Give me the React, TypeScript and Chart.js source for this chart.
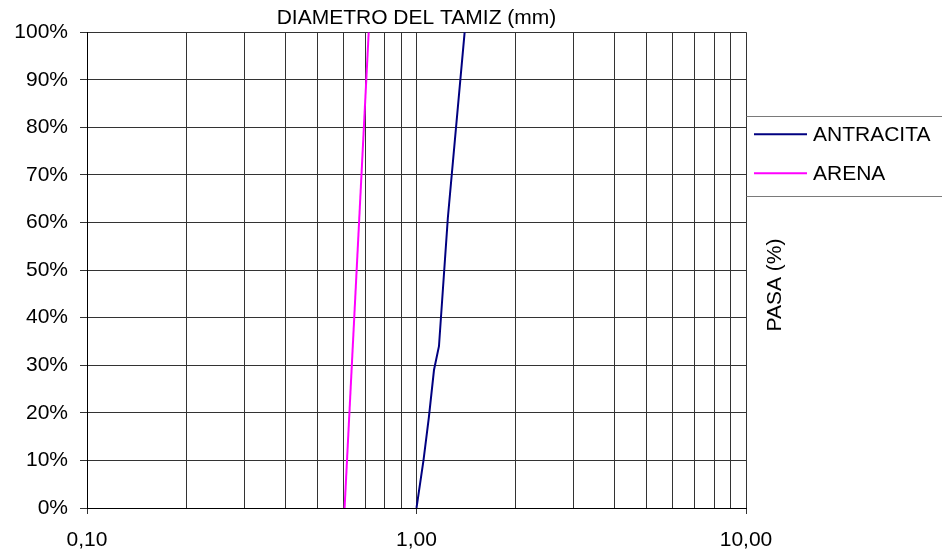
import React, { useEffect, useRef } from 'react';
import { Chart, registerables } from 'chart.js';

Chart.register(...registerables);

// ---- data ----
const antracitaDiam = [1.0, 1.05, 1.09, 1.13, 1.17, 1.245, 1.4];
const antracitaPasa = [0, 10, 19, 29, 34, 61, 100];
const arenaDiam = [0.605, 0.716];
const arenaPasa = [0, 100];

const seriesNames = ['ANTRACITA', 'ARENA'];
const seriesColors = ['#000080', '#FF00FF'];

const xGridTicks = [0.1, 0.2, 0.3, 0.4, 0.5, 0.6, 0.7, 0.8, 0.9, 1, 2, 3, 4, 5, 6, 7, 8, 9, 10];
const xLabelTicks = [0.1, 1, 10];
const yTickValues = [0, 10, 20, 30, 40, 50, 60, 70, 80, 90, 100];

const chartTitle = 'DIAMETRO DEL TAMIZ (mm)';
const yTitle = 'PASA (%)';

const FONT = "'Liberation Sans', Arial, sans-serif";

const isLabelTick = (v: number) => xLabelTicks.some((t) => Math.abs(t - v) < 1e-9);

const sidePlugin = {
  id: 'sideLegend',
  afterDraw(chart: any) {
    const { ctx, chartArea } = chart;
    ctx.save();
    const left = chartArea.right;
    const lx = Math.round(left - 0.5) + 0.5;
    const top = chartArea.top + 84;
    const bottom = chartArea.top + 164;
    ctx.strokeStyle = '#7a7a7a';
    ctx.lineWidth = 1;
    ctx.beginPath();
    ctx.moveTo(lx, Math.round(top) + 0.5);
    ctx.lineTo(chart.width, Math.round(top) + 0.5);
    ctx.moveTo(lx, Math.round(bottom) + 0.5);
    ctx.lineTo(chart.width, Math.round(bottom) + 0.5);
    ctx.stroke();

    ctx.font = `21px ${FONT}`;
    ctx.textBaseline = 'middle';
    ctx.textAlign = 'left';
    chart.data.datasets.forEach((ds: any, i: number) => {
      const y = top + 18 + i * 39;
      ctx.strokeStyle = ds.borderColor;
      ctx.lineWidth = 2;
      ctx.beginPath();
      ctx.moveTo(left + 8, y);
      ctx.lineTo(left + 61, y);
      ctx.stroke();
      ctx.fillStyle = '#000';
      ctx.fillText(ds.label, left + 67, y + 1);
    });

    ctx.translate(left + 29, 285);
    ctx.rotate(-Math.PI / 2);
    ctx.textAlign = 'center';
    ctx.textBaseline = 'middle';
    ctx.fillStyle = '#000';
    ctx.fillText(yTitle, 0, 0);
    ctx.restore();
  },
};

export default function App() {
  const ref = useRef<HTMLCanvasElement | null>(null);

  useEffect(() => {
    if (!ref.current) return;
    const chart = new Chart(ref.current, {
      type: 'scatter',
      data: {
        datasets: [
          {
            label: seriesNames[0],
            data: antracitaDiam.map((x, i) => ({ x, y: antracitaPasa[i] })),
            borderColor: seriesColors[0],
            backgroundColor: seriesColors[0],
            showLine: true,
            borderWidth: 2,
            pointRadius: 0,
          },
          {
            label: seriesNames[1],
            data: arenaDiam.map((x, i) => ({ x, y: arenaPasa[i] })),
            borderColor: seriesColors[1],
            backgroundColor: seriesColors[1],
            showLine: true,
            borderWidth: 2,
            pointRadius: 0,
          },
        ],
      },
      options: {
        responsive: false,
        animation: false,
        devicePixelRatio: 1,
        layout: { padding: { top: 0, right: 196, bottom: 0, left: 0 } },
        plugins: {
          legend: { display: false },
          tooltip: { enabled: false },
          title: {
            display: true,
            text: chartTitle,
            fullSize: false,
            color: '#000',
            font: { family: FONT, size: 21, weight: 'normal' },
            padding: { top: 6, bottom: 1 },
          },
        },
        scales: {
          x: {
            type: 'logarithmic',
            min: 0.1,
            max: 10,
            afterBuildTicks: (scale: any) => {
              scale.ticks = xGridTicks.map((v) => ({ value: v }));
            },
            afterFit: (scale: any) => {
              scale.height = 46;
            },
            ticks: {
              autoSkip: false,
              maxRotation: 0,
              color: '#000',
              padding: 14,
              font: { family: FONT, size: 21 },
              callback: (v: any) => (isLabelTick(Number(v)) ? Number(v).toFixed(2).replace('.', ',') : ''),
            },
            grid: {
              color: '#333',
              lineWidth: 1,
              tickLength: 6,
              tickColor: (ctx: any) => (ctx.tick && isLabelTick(ctx.tick.value) ? '#333' : 'rgba(0,0,0,0)'),
            },
            border: { color: '#000', width: 1 },
          },
          y: {
            type: 'linear',
            min: 0,
            max: 100,
            afterBuildTicks: (scale: any) => {
              scale.ticks = yTickValues.map((v) => ({ value: v }));
            },
            afterFit: (scale: any) => {
              scale.width = 87;
            },
            ticks: {
              color: '#000',
              padding: 12,
              font: { family: FONT, size: 21 },
              callback: (v: any) => `${v}%`,
            },
            grid: {
              color: '#333',
              lineWidth: 1,
              tickLength: 7,
              tickColor: '#333',
            },
            border: { color: '#000', width: 1 },
          },
        },
      },
      plugins: [sidePlugin],
    });
    return () => chart.destroy();
  }, []);

  return (
    <div style={{ position: 'absolute', left: 0, top: 0, width: 942, height: 554, background: '#fff' }}>
      <canvas ref={ref} width={942} height={554} style={{ display: 'block' }} />
    </div>
  );
}
